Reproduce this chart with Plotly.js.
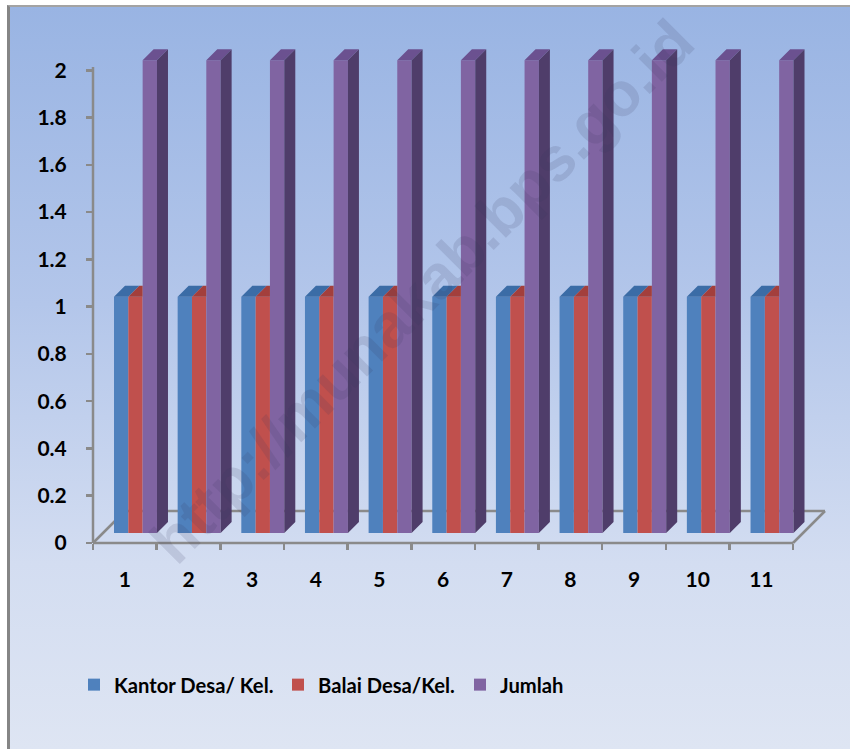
<!DOCTYPE html>
<html>
<head>
<meta charset="utf-8">
<script src="https://cdn.plot.ly/plotly-3.0.1.min.js"></script>
<style>
  html, body { margin: 0; padding: 0; background: #ffffff; }
  #wrap { position: relative; width: 850px; height: 749px; overflow: hidden; }
  #frame {
    position: absolute; left: 7px; top: 5px; width: 843px; height: 744px;
    box-sizing: border-box;
    border-top: 2px solid #a3a3a3; border-left: 3px solid #858585;
    background: linear-gradient(to bottom, #99b4e3 0%, #b3c6ea 40%, #d3ddf1 75%, #dee5f3 100%);
  }
  #chart { position: absolute; left: 0; top: 0; width: 850px; height: 749px; }
</style>
</head>
<body>
<div id="wrap">
  <div id="frame"></div>
  <div id="chart"></div>
</div>
<script>
// ---- data ----
const categories = [1, 2, 3, 4, 5, 6, 7, 8, 9, 10, 11];
const xTickText = ['1', '2', '3', '4', '5', '6', '7', '8', '9', '10', '11'];
const kantorDesa = [1, 1, 1, 1, 1, 1, 1, 1, 1, 1, 1];
const balaiDesa = [1, 1, 1, 1, 1, 1, 1, 1, 1, 1, 1];
const jumlah = [2, 2, 2, 2, 2, 2, 2, 2, 2, 2, 2];
const seriesNames = ['Kantor Desa/ Kel.', 'Balai Desa/Kel.', 'Jumlah'];
const yTickVals = [0, 0.2, 0.4, 0.6, 0.8, 1, 1.2, 1.4, 1.6, 1.8, 2];
const yTickText = ['0', '0.2', '0.4', '0.6', '0.8', '1', '1.2', '1.4', '1.6', '1.8', '2'];

// ---- 3D look (styles) ----
const W = 0.225;          // bar width (x units)
const OFFS = [-0.17, 0.055, 0.28];
const DX = 0.173;         // depth shift in x units
const DY = 0.0465;        // depth shift in y units
const BASE = 0.042;       // floor lift of bars
const FRONT = ['#4f81bd', '#c0504d', '#8064a2'];
const TOP = ['#3b6ca6', '#a33f3c', '#6b5190'];
const SIDE = '#4f3d6a';
const GRAY = '#8a8a8a';
const FONT = 'Lato, "Liberation Sans", Arial, sans-serif';

// legend font sized from the first label's width in the reference (~150px)
function fitSize(text, target, weight) {
  const c = document.createElement('canvas').getContext('2d');
  c.font = weight + ' 20px ' + FONT;
  const w = c.measureText(text).width;
  return Math.max(14, Math.min(24, 20 * target / w));
}
const legSize = fitSize(seriesNames[0], 160, 'bold');

const series = [kantorDesa, balaiDesa, jumlah];
const legendIds = ['legend', 'legend2', 'legend3'];

const traces = series.map((vals, i) => ({
  type: 'bar', x: categories, y: vals, base: BASE, width: W, offset: OFFS[i],
  name: seriesNames[i], legend: legendIds[i],
  marker: { color: FRONT[i], line: { width: 0 } },
  hoverinfo: 'y'
}));

function poly(list) {
  const xs = [], ys = [];
  list.forEach(p => { p.forEach(q => { xs.push(q[0]); ys.push(q[1]); }); xs.push(null); ys.push(null); });
  return { xs, ys };
}
function face(list, color) {
  const p = poly(list);
  return { type: 'scatter', mode: 'lines', x: p.xs, y: p.ys, fill: 'toself', fillcolor: color,
           line: { width: 0, color: color }, showlegend: false, hoverinfo: 'skip' };
}
// top faces
series.forEach((vals, i) => {
  const list = categories.map((c, k) => {
    const x0 = c + OFFS[i], x1 = x0 + W, t = BASE + vals[k];
    const nextTaller = i < series.length - 1 && series[i + 1][k] > vals[k];
    if (nextTaller) return [[x0, t], [x1, t], [x1, t + DY], [x0 + DX, t + DY]];
    return [[x0, t], [x1, t], [x1 + DX, t + DY], [x0 + DX, t + DY]];
  });
  traces.push(face(list, TOP[i]));
});
// side face of the last (rightmost) series
{
  const i = series.length - 1;
  const list = categories.map((c, k) => {
    const x1 = c + OFFS[i] + W, t = BASE + series[i][k];
    return [[x1, BASE], [x1, t], [x1 + DX, t + DY], [x1 + DX, BASE + DY]];
  });
  traces.push(face(list, SIDE));
}

// paper geometry: plot left 93px, width 732px, bottom 543px, height 520px
const pw = 732, ph = 520;
const fx = 700 / pw, dxp = 32 / pw, dyp = 32 / ph;
const ln = { color: GRAY, width: 2.5 };
const shapes = [
  { type: 'line', xref: 'paper', yref: 'paper', x0: 0, y0: 0, x1: fx, y1: 0, line: ln, layer: 'below' },
  { type: 'line', xref: 'paper', yref: 'paper', x0: fx, y0: 0, x1: fx + dxp, y1: dyp, line: ln, layer: 'below' },
  { type: 'line', xref: 'paper', yref: 'paper', x0: dxp, y0: dyp, x1: fx + dxp, y1: dyp, line: ln, layer: 'below' },
  { type: 'line', xref: 'paper', yref: 'paper', x0: 0, y0: 0, x1: dxp, y1: dyp, line: ln, layer: 'below' },
  { type: 'line', xref: 'paper', yref: 'paper', x0: 0, y0: 0, x1: 0, y1: 476 / ph, line: ln, layer: 'below' }
];

const legFont = { family: FONT, size: legSize, color: '#000', weight: 'bold' };
function leg(xpx) {
  return { orientation: 'h', x: (xpx - 93) / pw, y: -(685 - 543) / ph, xanchor: 'left', yanchor: 'middle',
           bgcolor: 'rgba(0,0,0,0)', borderwidth: 0, font: legFont };
}

const tickFont = { family: FONT, size: 21, color: '#000', weight: 'bold' };

const layout = {
  width: 850, height: 749,
  margin: { l: 93, r: 25, t: 23, b: 206 },
  paper_bgcolor: 'rgba(0,0,0,0)', plot_bgcolor: 'rgba(0,0,0,0)',
  barmode: 'overlay',
  showlegend: true,
  legend: leg(74), legend2: leg(278), legend3: leg(460),
  xaxis: {
    range: [0.5, 12.0], tickmode: 'array', tickvals: categories, ticktext: xTickText,
    ticks: '', showgrid: false, zeroline: false, showline: false,
    tickfont: tickFont,
    ticklabelstandoff: 22,
    minor: { tickmode: 'linear', tick0: 0.5, dtick: 1, ticks: 'outside', ticklen: 6, tickwidth: 2.5, tickcolor: GRAY, showgrid: false }
  },
  yaxis: {
    range: [0, 2.2], tickmode: 'array', tickvals: yTickVals, ticktext: yTickText,
    ticks: 'outside', ticklen: 6, tickwidth: 2.5, tickcolor: GRAY,
    showgrid: false, zeroline: false, showline: false,
    tickfont: tickFont,
    ticklabelstandoff: 15
  },
  shapes: shapes,
  annotations: [{
    xref: 'paper', yref: 'paper', x: (422 - 93) / pw, y: (543 - 292) / ph,
    text: 'http://munakab.bps.go.id', showarrow: false, textangle: -45,
    font: { family: 'Arial, "Liberation Sans", sans-serif', size: 62, color: 'rgba(60,60,90,0.14)', weight: 'bold' }
  }]
};

Plotly.newPlot('chart', traces, layout, { displayModeBar: false, staticPlot: true });
</script>
</body>
</html>
